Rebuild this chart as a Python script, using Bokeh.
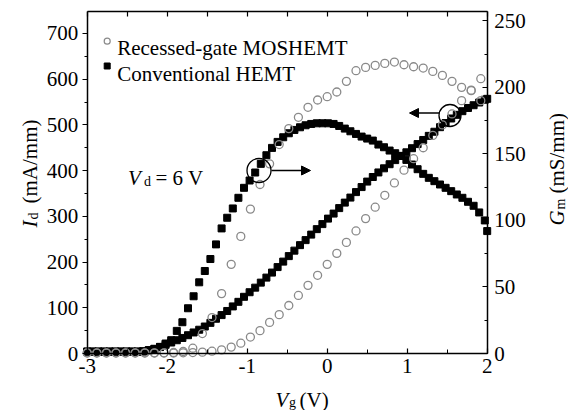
import numpy as np
from bokeh.plotting import figure
from bokeh.models import (Range1d, LinearAxis, SingleIntervalTicker, Label, Arrow,
                          NormalHead, CustomJSTickFormatter, ColumnDataSource)
from bokeh.embed import file_html
from bokeh.resources import INLINE

# ---------------- data ----------------
# Conventional HEMT (filled squares), Vg step 0.07 V
vg_sq = [round(-3.0 + 0.07 * k, 2) for k in range(72)] + [2.0]
id_sq = [4, 4, 4, 4, 4, 4, 4, 4, 4, 4, 5,
         7, 10, 14, 19, 24, 29, 34, 40, 46, 52,
         59, 67, 76, 84, 93, 103, 113, 124, 134, 144,
         155, 166, 177, 189, 201, 213, 225, 237, 248, 260,
         272, 283, 295, 306, 318, 330, 341, 353, 364, 376,
         386, 396, 405, 414, 423, 432, 440, 449, 458, 467,
         476, 485, 495, 504, 514, 522, 530, 537, 543, 549,
         555, 557]
gm_sq = [1.5, 1.5, 1.5, 1.5, 1.5, 1.5, 1.5, 1.5, 1.5, 1.5, 1.5,
         2.5, 3.5, 5, 7.5, 10, 17, 23.5, 34, 43, 53.5,
         62, 71, 82, 94, 102, 109, 117, 124.5, 130, 136,
         142.5, 149, 154.5, 159, 162.5, 165.5, 168, 170, 171.5, 172.5,
         173, 173, 173, 172.5, 171, 169, 167, 165, 163, 161.5,
         160, 157, 155, 152.5, 150.5, 148.5, 145.5, 142, 138.5, 135,
         132, 129.5, 127, 124.5, 122, 119.5, 117, 114, 111, 106,
         100, 92]

# Recessed-gate MOSHEMT (open circles), Vg step 0.12 V
vg_ci = [round(-3.0 + 0.12 * k, 2) for k in range(42)]
id_ci = [1, 1, 1, 1, 1, 1, 1, 1, 1,
         1, 1.5, 2, 3, 5, 8, 14, 22.5, 36, 50,
         68, 85, 105, 127, 149, 171, 195, 219, 243, 268,
         295, 320, 346, 373, 401, 426, 450, 477, 500, 524,
         553, 576, 601]
gm_ci = [0.5, 0.5, 0.5, 0.5, 0.5, 0.5, 0.5, 0.5, 0.5,
         0.8, 1.5, 4, 15, 27, 45, 67, 88, 108.5, 127,
         142.5, 157, 169, 177.5, 185, 190.5, 193, 196.5, 204.5, 212.5,
         215, 216.5, 218, 219, 217, 215.5, 214.5, 212, 209, 204.5,
         200, 197.5, 190]

assert len(vg_sq) == len(id_sq) == len(gm_sq)
assert len(vg_ci) == len(id_ci) == len(gm_ci)

# axis extents
XMIN, XMAX = -3.0, 2.0
YMAX = 748.0
GMAX = 257.0

# ---------------- layout (pixel geometry of the chart box) ----------------
W, H = 568, 410
FL, FR, FT, FB = 86.7, 486.7, 11.0, 353.0
FONT = "Liberation Serif"


def X(px):
    return XMIN + (px - FL) * (XMAX - XMIN) / (FR - FL)


def Y(py):
    return (FB - py) * YMAX / (FB - FT)


def G(py):
    return (FB - py) * GMAX / (FB - FT)


# the frame spans the whole canvas; axes are pinned to the chart box edges
p = figure(width=W, height=H, x_range=Range1d(X(0), X(W)), y_range=Range1d(Y(H), Y(0)),
           output_backend="svg", toolbar_location=None,
           min_border_left=0, min_border_right=0, min_border_top=0, min_border_bottom=0)
p.extra_y_ranges = {"gm": Range1d(G(H), G(0))}
p.grid.visible = False
p.background_fill_color = "white"
p.border_fill_color = "white"
p.outline_line_color = None


def style_axis(ax, tin, tout, mtin, mtout, standoff):
    ax.axis_line_color = "black"
    ax.axis_line_width = 1.5
    ax.major_tick_line_color = "black"
    ax.minor_tick_line_color = "black"
    ax.major_tick_line_width = 1.2
    ax.minor_tick_line_width = 1.0
    ax.major_tick_in = tin
    ax.major_tick_out = tout
    ax.minor_tick_in = mtin
    ax.minor_tick_out = mtout
    ax.major_label_standoff = standoff
    ax.major_label_text_font = FONT
    ax.major_label_text_font_size = "21px"
    ax.major_label_text_color = "black"


xb = p.xaxis[0]
xb.ticker = SingleIntervalTicker(interval=1, num_minor_ticks=2)
xb.formatter = CustomJSTickFormatter(code="return tick.toString()")
xb.fixed_location = 0
xb.bounds = (XMIN, XMAX)
style_axis(xb, 5, 0, 4, 0, 5)

yl = p.yaxis[0]
yl.ticker = SingleIntervalTicker(interval=100, num_minor_ticks=2)
yl.fixed_location = XMIN
yl.bounds = (0, YMAX)
style_axis(yl, 0, 5, 0, 3, 4)

yr = LinearAxis(y_range_name="gm", ticker=SingleIntervalTicker(interval=50, num_minor_ticks=2),
                fixed_location=XMAX, bounds=(0, GMAX))
style_axis(yr, 5, 0, 3, 0, 7)
p.add_layout(yr, "right")

xt = LinearAxis(ticker=SingleIntervalTicker(interval=0.5, num_minor_ticks=0),
                formatter=CustomJSTickFormatter(code="return ''"),
                fixed_location=YMAX, bounds=(XMIN, XMAX))
style_axis(xt, 5, 0, 0, 0, 0)
xt.major_label_text_font_size = "1px"
p.add_layout(xt, "above")

# ---------------- data marks ----------------
sq = ColumnDataSource(dict(vg=vg_sq, id=id_sq, gm=gm_sq))
ci = ColumnDataSource(dict(vg=vg_ci, id=id_ci, gm=gm_ci))

p.scatter("vg", "id", source=sq, marker="square", size=7, fill_color="black", line_color="black")
p.scatter("vg", "gm", source=sq, marker="square", size=7, fill_color="black", line_color="black",
          y_range_name="gm")
GREY = "#8a8a8a"
p.scatter("vg", "id", source=ci, marker="circle", size=8, fill_color=None, line_color=GREY,
          line_width=1.3)
p.scatter("vg", "gm", source=ci, marker="circle", size=8, fill_color=None, line_color=GREY,
          line_width=1.3, y_range_name="gm")

# ---------------- legend ----------------
p.scatter([X(106.7)], [Y(40.7)], marker="circle", size=6, fill_color=None, line_color=GREY,
          line_width=1.2)
p.scatter([X(106.7)], [Y(65.5)], marker="square", size=6, fill_color="black", line_color="black")


def lab(px, py, text, size="21px", style="normal", angle=0.0, baseline="alphabetic",
        align="left"):
    p.add_layout(Label(x=X(px), y=Y(py), text=text, text_font=FONT, text_font_size=size,
                       text_font_style=style, text_color="black", text_baseline=baseline,
                       text_align=align, angle=angle))


lab(116.7, 47.5, "Recessed-gate MOSHEMT")
lab(116.7, 73, "Conventional HEMT")

# V_d = 6 V
lab(127.5, 177, "V", style="italic")
lab(143.5, 181, "d", size="14px")
lab(155, 177, "= 6 V")

# ---------------- annotation circles and arrows ----------------
p.scatter([X(258.5)], [Y(170)], marker="circle", size=24, fill_color=None, line_color="black",
          line_width=1.3)
p.add_layout(Arrow(end=NormalHead(size=9, fill_color="black", line_color="black"),
                   x_start=X(271), y_start=Y(170), x_end=X(310), y_end=Y(170),
                   line_width=1.4, line_color="black"))
p.scatter([X(449.5)], [Y(115)], marker="circle", size=22, fill_color=None, line_color="black",
          line_width=1.3)
p.add_layout(Arrow(end=NormalHead(size=9, fill_color="black", line_color="black"),
                   x_start=X(438.5), y_start=Y(112.5), x_end=X(409), y_end=Y(112.5),
                   line_width=1.4, line_color="black"))

# ---------------- axis titles ----------------
ROT = np.pi / 2
# bottom: V_g (V)
lab(275, 399, "V", style="italic")
lab(288.5, 402, "g", size="14px")
lab(299, 399, "(V)")
# left: I_d (mA/mm)
lab(29, 227, "I", style="italic", angle=ROT)
lab(33, 219, "d", size="14px", angle=ROT)
lab(29, 203, "(mA/mm)", angle=ROT)
# right: G_m (mS/mm)
lab(556, 225, "G", style="italic", angle=ROT)
lab(560, 209, "m", size="14px", angle=ROT)
lab(556, 193, "(mS/mm)", angle=ROT)

open("out.html", "w").write(file_html(p, INLINE))
